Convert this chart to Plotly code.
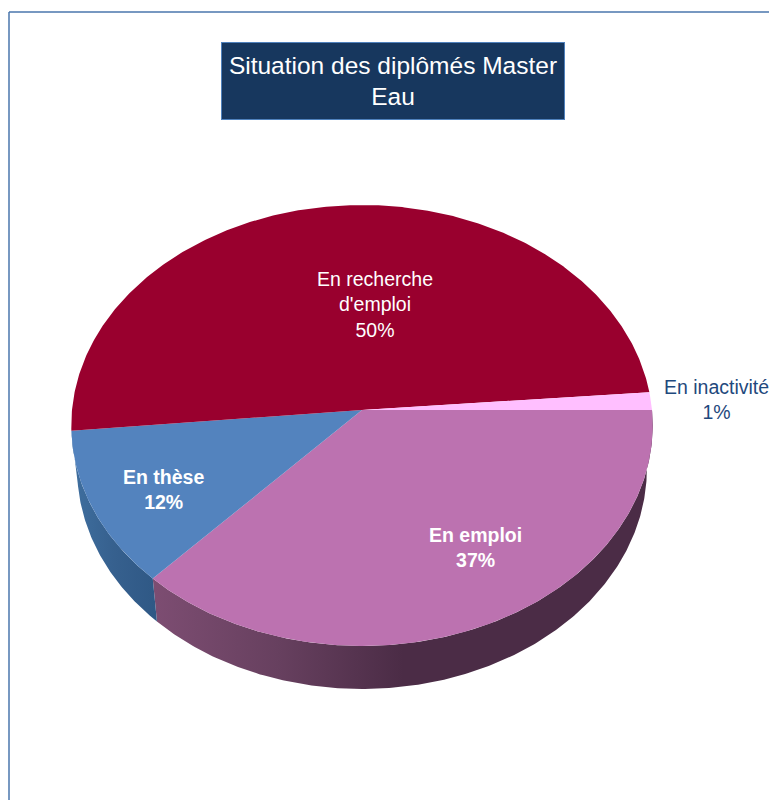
import numpy as np
import plotly.graph_objects as go

# slices, clockwise from the 3 o'clock position
categories = ["En emploi", "En thèse", "En recherche<br>d'emploi", "En inactivité"]
values = [37.0, 11.5, 50.2, 1.3]
colors = ["#bc72b0", "#5383be", "#99002e", "#ffbfff"]
text_colors = ["white", "white", "white", "#1f497d"]
bold = [True, True, False, False]
label_x = [475, 163, 375, 716]
label_y = [547, 489, 304, 399]

# pie geometry, in pixels of the page
cx, cy = 362, 410
k, h, p = 290, 219.4, 0.0703
depth = 43
bottom_scale = 0.98
font = "Liberation Sans"


def arc(a0, a1, scale=1.0, dy=0):
    # tilted circle seen in perspective, angle clockwise from the back
    t = np.radians(np.linspace(a0, a1, max(int(abs(a1 - a0) * 2), 4)))
    u, v = np.sin(t), -np.cos(t)
    w = 1 - p * v
    return cx + scale * k * u / w, cy + h * v / w + dy


def wedge(a0, a1):
    x, y = arc(a0, a1)
    return np.r_[cx, x, cx], np.r_[cy, y, cy]


def wall(a0, a1):
    x0, y0 = arc(a0, a1)
    x1, y1 = arc(a0, a1, bottom_scale, depth)
    return np.r_[x0, x1[::-1], x0[0]], np.r_[y0, y1[::-1], y0[0]]


angles = 90 + np.r_[0, np.cumsum(values)] * 3.6

fig = go.Figure()

# side walls first, top face over them
x, y = wall(angles[0], angles[1])
fig.add_trace(go.Scatter(
    x=x, y=y, mode="lines", line=dict(width=0), fill="toself",
    fillgradient=dict(type="horizontal", colorscale=[
        [0, "#7d4d72"], [0.25, "#67405f"], [0.5, "#4b2c46"], [1, "#4b2c46"]]),
    hoverinfo="skip", showlegend=False,
))
x, y = wall(angles[1], angles[2])
fig.add_trace(go.Scatter(
    x=x, y=y, mode="lines", line=dict(width=0), fill="toself",
    fillgradient=dict(type="horizontal", colorscale=[
        [0, "#3f6f9f"], [0.5, "#36608e"], [1, "#2f5885"]]),
    hoverinfo="skip", showlegend=False,
))

for i, name in enumerate(categories):
    x, y = wedge(angles[i], angles[i + 1])
    fig.add_trace(go.Scatter(
        x=x, y=y, mode="lines", line=dict(width=0), fill="toself",
        fillcolor=colors[i], name=name.replace("<br>", " "),
        hoverinfo="name", showlegend=False,
    ))

    text = f"{name}<br>{round(values[i])}%"
    if bold[i]:
        text = "<b>" + text.replace("<br>", "</b><br><b>") + "</b>"
    fig.add_annotation(
        x=label_x[i], y=label_y[i], text=text, showarrow=False,
        font=dict(family=font, size=19.5, color=text_colors[i]),
    )

# title box
fig.add_annotation(
    x=393, y=81, text="Situation des diplômés Master<br>Eau", showarrow=False,
    font=dict(family=font, size=24.5, color="white"),
    width=340, height=74, bgcolor="#17375e", bordercolor="#4f81bd", borderwidth=1,
)

# frame of the slide, cut by the right and bottom edges of the picture
fig.add_shape(type="line", x0=9, x1=769, y0=12, y1=12,
              line=dict(color="#4a76ad", width=1.5))
fig.add_shape(type="line", x0=9, x1=9, y0=12, y1=800,
              line=dict(color="#4a76ad", width=1.5))

fig.update_xaxes(range=[0, 769], visible=False, fixedrange=True)
fig.update_yaxes(range=[800, 0], visible=False, fixedrange=True)
fig.update_layout(
    width=769, height=800,
    margin=dict(l=0, r=0, t=0, b=0),
    paper_bgcolor="white", plot_bgcolor="white",
)
fig.write_html("out.html", config=dict(displayModeBar=False),
               post_script="document.body.style.margin = '0';")
